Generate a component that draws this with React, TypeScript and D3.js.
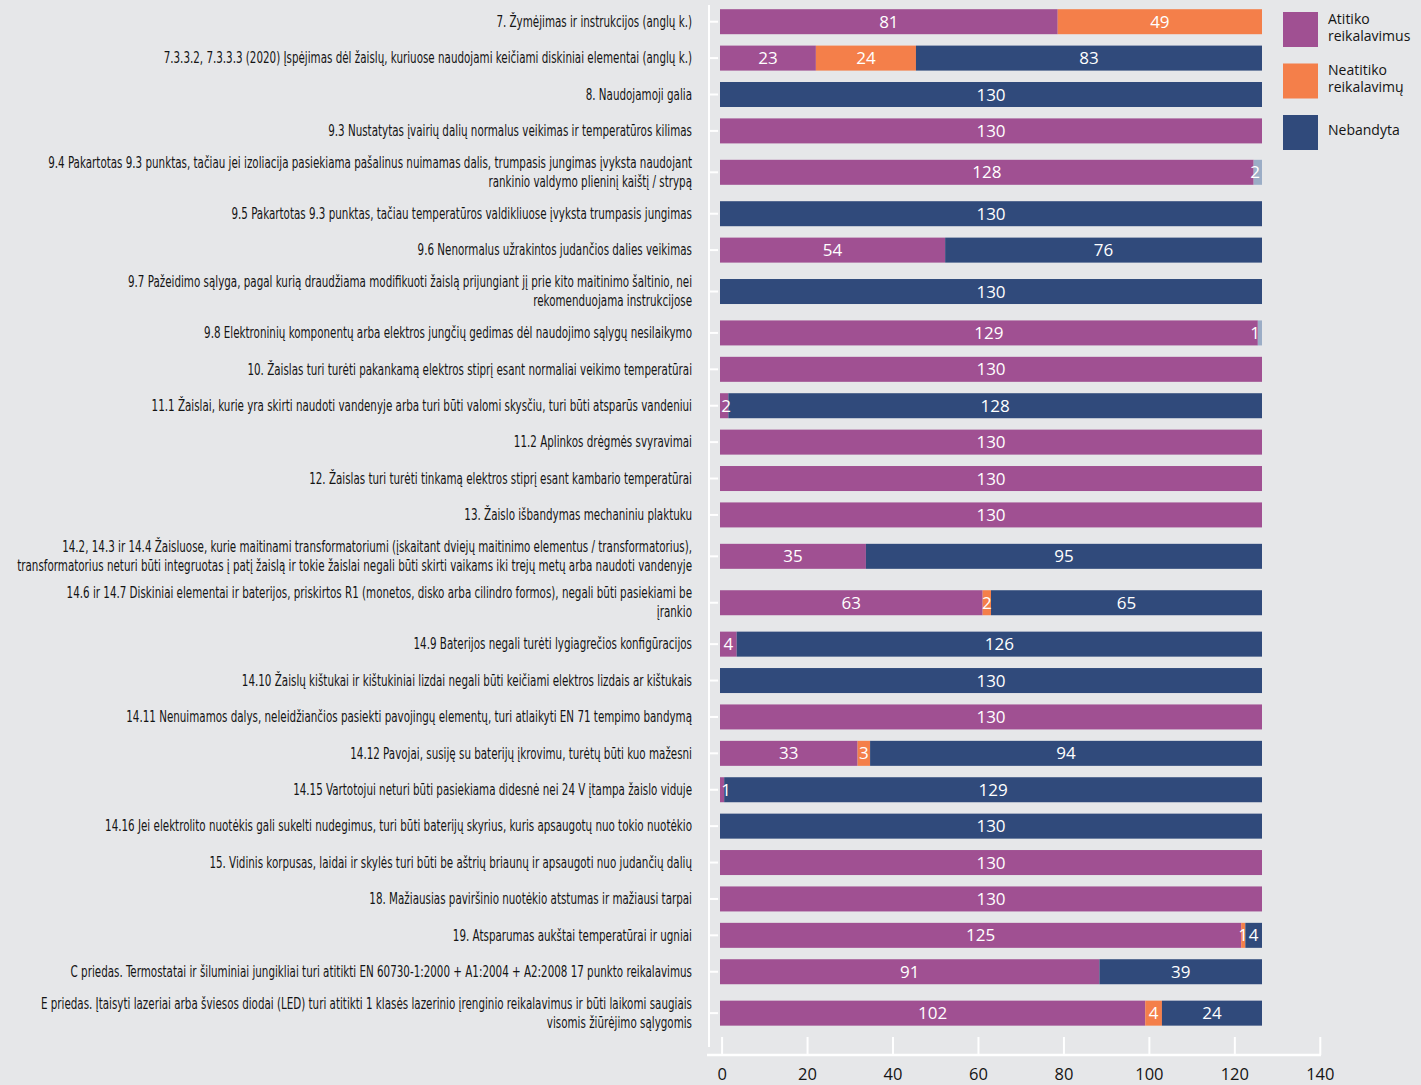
import React, { useEffect, useRef } from "react";
import * as d3 from "d3";

// categories, line breaks where the original label wraps
const categories = [
  "7. Žymėjimas ir instrukcijos (anglų k.)",
  "7.3.3.2, 7.3.3.3 (2020) Įspėjimas dėl žaislų, kuriuose naudojami keičiami diskiniai elementai (anglų k.)",
  "8. Naudojamoji galia",
  "9.3 Nustatytas įvairių dalių normalus veikimas ir temperatūros kilimas",
  "9.4 Pakartotas 9.3 punktas, tačiau jei izoliacija pasiekiama pašalinus nuimamas dalis, trumpasis jungimas įvyksta naudojant\nrankinio valdymo plieninį kaištį / strypą",
  "9.5 Pakartotas 9.3 punktas, tačiau temperatūros valdikliuose įvyksta trumpasis jungimas",
  "9.6 Nenormalus užrakintos judančios dalies veikimas",
  "9.7 Pažeidimo sąlyga, pagal kurią draudžiama modifikuoti žaislą prijungiant jį prie kito maitinimo šaltinio, nei\nrekomenduojama instrukcijose",
  "9.8 Elektroninių komponentų arba elektros jungčių gedimas dėl naudojimo sąlygų nesilaikymo",
  "10. Žaislas turi turėti pakankamą elektros stiprį esant normaliai veikimo temperatūrai",
  "11.1 Žaislai, kurie yra skirti naudoti vandenyje arba turi būti valomi skysčiu, turi būti atsparūs vandeniui",
  "11.2 Aplinkos drėgmės svyravimai",
  "12. Žaislas turi turėti tinkamą elektros stiprį esant kambario temperatūrai",
  "13. Žaislo išbandymas mechaniniu plaktuku",
  "14.2, 14.3 ir 14.4 Žaisluose, kurie maitinami transformatoriumi (įskaitant dviejų maitinimo elementus / transformatorius),\ntransformatorius neturi būti integruotas į patį žaislą ir tokie žaislai negali būti skirti vaikams iki trejų metų arba naudoti vandenyje",
  "14.6 ir 14.7 Diskiniai elementai ir baterijos, priskirtos R1 (monetos, disko arba cilindro formos), negali būti pasiekiami be\nįrankio",
  "14.9 Baterijos negali turėti lygiagrečios konfigūracijos",
  "14.10 Žaislų kištukai ir kištukiniai lizdai negali būti keičiami elektros lizdais ar kištukais",
  "14.11 Nenuimamos dalys, neleidžiančios pasiekti pavojingų elementų, turi atlaikyti EN 71 tempimo bandymą",
  "14.12 Pavojai, susiję su baterijų įkrovimu, turėtų būti kuo mažesni",
  "14.15 Vartotojui neturi būti pasiekiama didesnė nei 24 V įtampa žaislo viduje",
  "14.16 Jei elektrolito nuotėkis gali sukelti nudegimus, turi būti baterijų skyrius, kuris apsaugotų nuo tokio nuotėkio",
  "15. Vidinis korpusas, laidai ir skylės turi būti be aštrių briaunų ir apsaugoti nuo judančių dalių",
  "18. Mažiausias paviršinio nuotėkio atstumas ir mažiausi tarpai",
  "19. Atsparumas aukštai temperatūrai ir ugniai",
  "C priedas. Termostatai ir šiluminiai jungikliai turi atitikti EN 60730-1:2000 + A1:2004 + A2:2008 17 punkto reikalavimus",
  "E priedas. Įtaisyti lazeriai arba šviesos diodai (LED) turi atitikti 1 klasės lazerinio įrenginio reikalavimus ir būti laikomi saugiais\nvisomis žiūrėjimo sąlygomis",
];

const atitiko = [81, 23, 0, 130, 128, 0, 54, 0, 129, 130, 2, 130, 130, 130, 35, 63, 4, 0, 130, 33, 1, 0, 130, 130, 125, 91, 102];
const neatitiko = [49, 24, 0, 0, 0, 0, 0, 0, 0, 0, 0, 0, 0, 0, 0, 2, 0, 0, 0, 3, 0, 0, 0, 0, 1, 0, 4];
const nebandyta = [0, 83, 130, 0, 0, 130, 76, 130, 0, 0, 128, 0, 0, 0, 95, 65, 126, 130, 0, 94, 129, 130, 0, 0, 4, 39, 24];
// small grey-blue remainder, not in the legend
const kita = [0, 0, 0, 0, 2, 0, 0, 0, 1, 0, 0, 0, 0, 0, 0, 0, 0, 0, 0, 0, 0, 0, 0, 0, 0, 0, 0];

const legendNames = ["Atitiko\nreikalavimus", "Neatitiko\nreikalavimų", "Nebandyta"];
const axisTicks = [0, 20, 40, 60, 80, 100, 120, 140];

const keys = ["atitiko", "neatitiko", "nebandyta", "kita"];
const colors = ["#a05092", "#f47f4a", "#304a7b", "#9badc6"];

const LABEL_FONT = "'DejaVu Sans Condensed', 'Liberation Sans Narrow', 'DejaVu Sans', sans-serif";
const NUM_FONT = "'Open Sans', 'DejaVu Sans', sans-serif";

const buildChart = (el: SVGSVGElement) => {
  const W = 1421;
  const H = 1085;
  const labelLeft = 17;
  const labelRight = 692;

  const svg = d3.select(el);
  svg.selectAll("*").remove();

  svg.append("rect").attr("width", W).attr("height", H).attr("fill", "#e6e7e9");

  const rows = categories.map((label, i) => ({
    label,
    lines: label.split("\n"),
    atitiko: atitiko[i],
    neatitiko: neatitiko[i],
    nebandyta: nebandyta[i],
    kita: kita[i],
  }));

  // two-line labels take a bit more vertical room
  const slot = rows.map(r => (r.lines.length > 1 ? 1.275 : 1));
  const cum = Array.from(d3.cumsum(slot));
  const total = d3.sum(slot);
  const y = d3.scaleLinear().domain([0, total]).range([3.5, 3.5 + total * 36.4]);
  const yc = (i: number) => y(cum[i] - slot[i] / 2);
  const barH = 25;

  const maxTotal = d3.max(rows, r => r.atitiko + r.neatitiko + r.nebandyta + r.kita) as number;
  const x = d3.scaleLinear().domain([0, maxTotal]).range([720, 1262]);
  const xAxisScale = d3.scaleLinear().domain([0, 140]).range([721.6, 1319.8]);

  // category labels (condensed face, squeezed to the original column width)
  const labels = svg
    .append("g")
    .attr("font-family", LABEL_FONT)
    .attr("font-stretch", "condensed")
    .attr("font-size", 15)
    .attr("fill", "#141414")
    .attr("text-anchor", "end");

  const labelTexts: { node: SVGTextElement; y: number }[] = [];
  rows.forEach((r, i) => {
    const n = r.lines.length;
    r.lines.forEach((line, j) => {
      const ly = yc(i) + (j - (n - 1) / 2) * 19;
      const t = labels.append("text").attr("dy", "0.35em").text(line);
      labelTexts.push({ node: t.node() as SVGTextElement, y: ly });
    });
  });
  const widest = d3.max(labelTexts, d => d.node.getComputedTextLength()) || 1;
  const squeeze = Math.min(1, (labelRight - labelLeft) / widest);
  labelTexts.forEach(d => {
    d3.select(d.node).attr("transform", `translate(${labelRight}, ${d.y}) scale(${squeeze}, 1)`);
  });

  // left axis
  const axisG = svg.append("g").attr("stroke", "#fff").attr("stroke-width", 2);
  axisG.append("line").attr("x1", 709).attr("x2", 709).attr("y1", 5).attr("y2", 1047);
  axisG
    .selectAll(".ytick")
    .data(rows)
    .enter()
    .append("line")
    .attr("class", "ytick")
    .attr("x1", 709)
    .attr("x2", 718)
    .attr("y1", (d, i) => yc(i))
    .attr("y2", (d, i) => yc(i));

  // stacked bars
  const stack = d3.stack<any>().keys(keys);
  const layers = stack(rows);

  const barG = svg.append("g");
  layers.forEach((layer, k) => {
    barG
      .selectAll(`.bar-${k}`)
      .data(layer)
      .enter()
      .append("rect")
      .attr("class", `bar-${k}`)
      .attr("x", d => x(d[0]))
      .attr("y", (d, i) => yc(i) - barH / 2)
      .attr("width", d => x(d[1]) - x(d[0]))
      .attr("height", barH)
      .attr("fill", colors[k]);
  });

  // value labels
  const valG = svg
    .append("g")
    .attr("font-family", NUM_FONT)
    .attr("font-size", 17)
    .attr("fill", "#fff")
    .attr("text-anchor", "middle");

  layers.forEach(layer => {
    layer.forEach((d, i) => {
      const v = d[1] - d[0];
      if (v <= 0) return;
      let cx = (x(d[0]) + x(d[1])) / 2;
      cx = Math.max(cx, x(0) + 6);
      cx = Math.min(cx, x(maxTotal) - 7);
      valG
        .append("text")
        .attr("x", cx)
        .attr("y", yc(i))
        .attr("dy", "0.36em")
        .text(v);
    });
  });

  // bottom axis
  const bottom = svg.append("g").attr("transform", "translate(0, 1055)");
  bottom.call(
    d3.axisBottom(xAxisScale).tickValues(axisTicks).tickSize(-18).tickPadding(13)
  );
  bottom.select(".domain").remove();
  bottom.selectAll(".tick line").attr("stroke", "#fff").attr("stroke-width", 2);
  bottom
    .selectAll(".tick text")
    .attr("fill", "#141414")
    .attr("font-family", NUM_FONT)
    .attr("font-size", 16.5);
  bottom
    .append("line")
    .attr("x1", 707)
    .attr("x2", 1321)
    .attr("stroke", "#fff")
    .attr("stroke-width", 2.5);

  // legend
  const legend = svg
    .append("g")
    .attr("transform", "translate(1283, 12)")
    .attr("font-family", NUM_FONT)
    .attr("font-size", 14)
    .attr("fill", "#141414");

  legendNames.forEach((name, k) => {
    const g = legend.append("g").attr("transform", `translate(0, ${k * 51.5})`);
    g.append("rect").attr("width", 35).attr("height", 35).attr("fill", colors[k]);
    const lines = name.split("\n");
    lines.forEach((line, j) => {
      g.append("text")
        .attr("x", 45)
        .attr("y", 15.5 + (j - (lines.length - 1) / 2) * 17)
        .attr("dy", "0.35em")
        .text(line);
    });
  });
};

function App() {
  const ref = useRef<SVGSVGElement>(null);

  useEffect(() => {
    if (ref.current) buildChart(ref.current);
  }, []);

  return (
    <svg
      ref={ref}
      width={1421}
      height={1085}
      style={{ position: "absolute", left: 0, top: 0, display: "block" }}
    />
  );
}

export default App;
